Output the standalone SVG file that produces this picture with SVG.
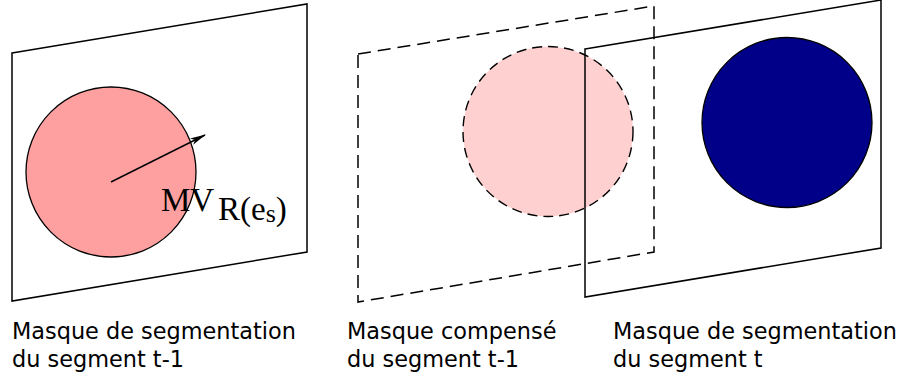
<svg xmlns="http://www.w3.org/2000/svg" width="900" height="377" viewBox="0 0 900 377">
<style>
.frame{fill:none;stroke:#000;stroke-width:1.5}
.dash{fill:none;stroke:#000;stroke-width:1.5;stroke-dasharray:13 7}
.lbl{font-family:"DejaVu Sans",Verdana,sans-serif;font-size:22.4px;fill:#000}
.math{font-family:"Liberation Serif","Times New Roman",serif;font-size:33px;fill:#000}
</style>
<defs>
<marker id="ah" markerWidth="16" markerHeight="10" refX="15" refY="5" orient="auto" markerUnits="userSpaceOnUse">
<path d="M0,1.5 L16,5 L0,8.5 L4,5 Z" fill="#000"/>
</marker>
</defs>
<rect width="900" height="377" fill="#fff"/>
<g id="mask-prev">
<polygon class="frame" points="12,53 307,4 307,252 12,301"/>
<circle cx="111" cy="172" r="85" fill="#ffa0a0" stroke="#000" stroke-width="1.3"/>
<text class="lbl" x="12" y="339">Masque de segmentation</text>
<text class="lbl" x="12" y="367">du segment t-1</text>
</g>
<g id="mask-comp">
<polygon class="dash" points="358,54 654,6 654,252 358,302"/>
<circle cx="548" cy="131.5" r="85" fill="#ffd0d0" stroke="#000" stroke-width="1.4" stroke-dasharray="10 6"/>
<text class="lbl" x="347" y="339">Masque compensé</text>
<text class="lbl" x="347" y="367">du segment t-1</text>
</g>
<g id="mask-cur">
<polygon class="frame" points="585,49 881,0 881,248 585,297"/>
<circle cx="787" cy="122.5" r="85" fill="#000088" stroke="#000" stroke-width="1.3"/>
<text class="lbl" x="613" y="339">Masque de segmentation</text>
<text class="lbl" x="613" y="367">du segment t</text>
</g>
<g id="connectors">
<line x1="111" y1="182" x2="205" y2="135" stroke="#000" stroke-width="1.4" marker-end="url(#ah)"/>
</g>
<g id="mv-label">
<text class="math" x="161" y="211">MV</text>
<text class="math" x="218" y="220" font-size="32">R(e<tspan font-size="26" dy="2">s</tspan><tspan dy="-2">)</tspan></text>
</g>
</svg>
